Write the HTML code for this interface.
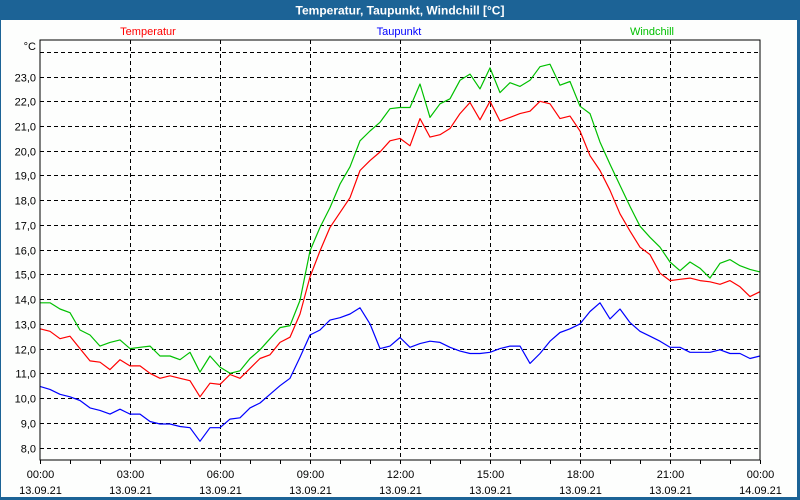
<!DOCTYPE html>
<html><head><meta charset="utf-8"><style>
html,body{margin:0;padding:0;background:#1c6396;}
svg{display:block;font-family:"Liberation Sans","DejaVu Sans",sans-serif;}
</style></head><body>
<svg id="chart" width="800" height="500" viewBox="0 0 800 500" xmlns="http://www.w3.org/2000/svg">
<rect x="0" y="0" width="800" height="500" fill="#1c6396"/>
<rect x="1" y="20" width="796" height="477" fill="#fdfefd"/>
<text x="400" y="14.5" text-anchor="middle" fill="#fff" font-size="12" font-weight="bold">Temperatur, Taupunkt, Windchill [°C]</text>
<text x="148" y="35" text-anchor="middle" fill="#ff0000" font-size="11">Temperatur</text>
<text x="399" y="35" text-anchor="middle" fill="#0000ff" font-size="11">Taupunkt</text>
<text x="652" y="35" text-anchor="middle" fill="#00c000" font-size="11">Windchill</text>
<text x="36" y="50" text-anchor="end" fill="#000" font-size="11">°C</text>
<g id="grid"></g>
<g id="series"></g>
<rect x="40" y="40" width="720" height="420" fill="none" stroke="#000" stroke-width="1" shape-rendering="crispEdges"/>
<g id="axes"></g>
</svg>
<script>
const yTicks = [8,9,10,11,12,13,14,15,16,17,18,19,20,21,22,23,24];
const xTickHours = [0,3,6,9,12,15,18,21,24];
const xTimeLabels = ["00:00","03:00","06:00","09:00","12:00","15:00","18:00","21:00","00:00"];
const xDateLabels = ["13.09.21","13.09.21","13.09.21","13.09.21","13.09.21","13.09.21","13.09.21","13.09.21","14.09.21"];
const stepMinutes = 20;
const temperatur = [12.8,12.7,12.4,12.5,12.0,11.5,11.45,11.15,11.55,11.3,11.3,11.0,10.8,10.9,10.8,10.7,10.05,10.6,10.55,10.95,10.8,11.2,11.6,11.75,12.25,
12.46,13.4,14.9,15.95,16.9,17.5,18.1,19.2,19.6,19.95,20.4,20.5,20.2,21.3,20.55,20.65,20.9,21.5,21.95,21.25,22.0,21.2,21.35,21.5,21.6,
22.0,21.9,21.3,21.4,20.8,19.8,19.2,18.4,17.45,16.75,16.1,15.8,15.05,14.75,14.8,14.85,14.75,14.7,14.6,14.75,14.5,14.1,14.3];
const windchill = [13.85,13.85,13.6,13.45,12.75,12.55,12.1,12.25,12.35,12.0,12.05,12.1,11.7,11.7,11.55,11.85,11.05,11.7,11.25,11.0,11.1,11.6,11.95,12.4,12.85,
12.93,13.95,15.95,16.9,17.7,18.65,19.35,20.4,20.8,21.15,21.7,21.75,21.75,22.7,21.35,21.9,22.1,22.85,23.1,22.5,23.35,22.35,22.75,22.6,22.85,
23.4,23.5,22.65,22.8,21.8,21.5,20.35,19.45,18.6,17.75,16.95,16.5,16.1,15.5,15.15,15.5,15.25,14.85,15.45,15.6,15.35,15.2,15.1];
const taupunkt = [10.47,10.35,10.15,10.05,9.9,9.6,9.5,9.35,9.55,9.35,9.35,9.05,8.95,8.95,8.85,8.8,8.25,8.8,8.8,9.15,9.2,9.6,9.8,10.15,10.5,
10.8,11.65,12.55,12.75,13.15,13.25,13.4,13.65,13.0,12.0,12.1,12.45,12.05,12.2,12.3,12.25,12.05,11.9,11.8,11.8,11.85,12.0,12.1,12.1,11.4,
11.8,12.3,12.65,12.8,13.0,13.5,13.85,13.2,13.6,13.05,12.7,12.5,12.3,12.05,12.05,11.85,11.85,11.85,11.95,11.8,11.8,11.6,11.7];

const NS = "http://www.w3.org/2000/svg";
const X0 = 40, X1 = 760;
function xScale(min){ return X0 + min/1440*(X1-X0); }
function yScale(v){ return 447.5 - (v-8)*24.73; }
function mk(tag, attrs, parent){ const e=document.createElementNS(NS,tag); for(const k in attrs) e.setAttribute(k,attrs[k]); parent.appendChild(e); return e; }

const grid = document.getElementById('grid');
const axes = document.getElementById('axes');
yTicks.forEach(v=>{
  const y = Math.round(yScale(v))+0.5;
  const l = mk('line',{x1:X0,x2:X1,y1:y,y2:y,stroke:'#000','stroke-dasharray':'4,3','stroke-width':1},grid);
  
  
  if(v<24){
    const t = mk('text',{x:36,y:y+4,'text-anchor':'end','font-size':11,fill:'#000'},axes);
    
    
    t.textContent = v.toFixed(1).replace('.',',');
  }
});
for(let h=0; h<=24; h++){
  const x = Math.round(xScale(h*60))+0.5;
  const tk = mk('line',{x1:x,x2:x,y1:460,y2:464,stroke:'#000','stroke-width':1},axes);
  
  
}
xTickHours.forEach((h,i)=>{
  const x = Math.round(xScale(h*60))+0.5;
  if(h>0 && h<24){
    const l = mk('line',{x1:x,x2:x,y1:40,y2:460,stroke:'#000','stroke-dasharray':'4,3','stroke-width':1},grid);
    
    
  }
  const t1 = mk('text',{x:x,y:478,'text-anchor':'middle','font-size':11,fill:'#000'},axes);
  
  
  t1.textContent = xTimeLabels[i];
  const t2 = mk('text',{x:x,y:494,'text-anchor':'middle','font-size':11,fill:'#000'},axes);
  
  
  t2.textContent = xDateLabels[i];
});

const series = document.getElementById('series');
function drawLine(arr, color, name){
  const pts = arr.map((v,i)=> xScale(i*stepMinutes).toFixed(1)+','+yScale(v).toFixed(1)).join(' ');
  const p = mk('polyline',{points:pts,fill:'none',stroke:color,'stroke-width':1.2,'stroke-linejoin':'round'},series);
  
  
}
drawLine(taupunkt,'#0000ff','taupunkt-line');
drawLine(temperatur,'#ff0000','temperatur-line');
drawLine(windchill,'#00c000','windchill-line');
</script>
</body></html>
